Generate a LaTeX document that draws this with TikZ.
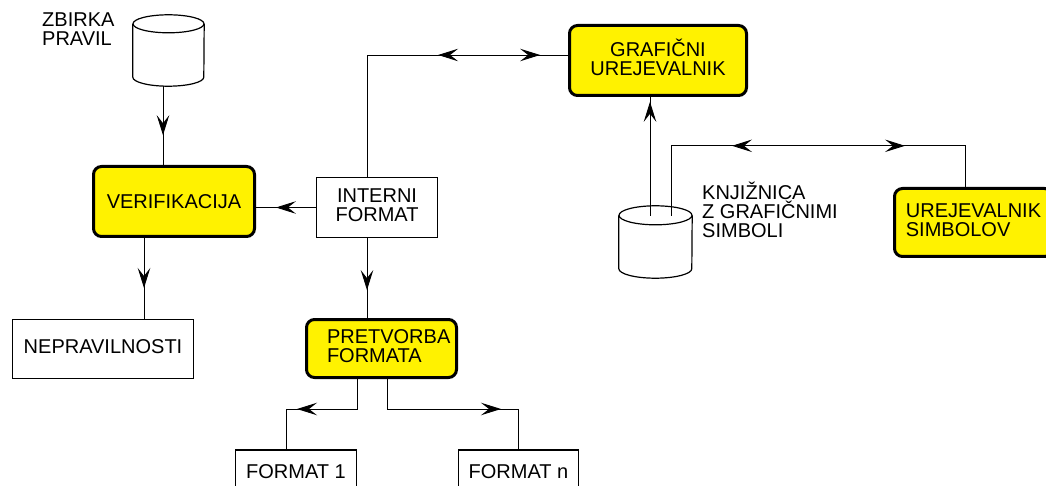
\documentclass[tikz,border=0pt]{standalone}
\usepackage{fontspec}
\setmainfont{Liberation Sans}
\usetikzlibrary{arrows.meta,decorations.markings,calc}

% outline of a drum (database) around an empty node: #1 node, #2 x radius, #3 y radius
\newcommand\drawdrum[3]{%
  \draw[store] ([yshift=-#3]#1.north west) -- ([yshift=#3]#1.south west)
     arc[start angle=180,end angle=360,x radius=#2,y radius=#3]
     -- ([yshift=-#3]#1.north east);
  \draw[store] ([yshift=-#3]#1.north) ellipse[x radius=#2,y radius=#3];}

\begin{document}
\begin{tikzpicture}[x=1pt,y=-1pt,
  every node/.style={font=\fontsize{20}{19}\selectfont, inner sep=0pt},
  proc/.style={draw, line width=3pt, rounded corners=8pt, fill=yellow},
  store/.style={draw, line width=1.2pt},
  conn/.style={line width=0.9pt},
  barb/.tip={Stealth[length=20pt,width=12.5pt,inset=8pt]},
  fwd/.style={postaction={decorate},
    decoration={markings, mark=at position #1 with {\arrow{barb}}}},
  both/.style 2 args={postaction={decorate},
    decoration={markings,
      mark=at position #1 with {\arrowreversed{barb}},
      mark=at position #2 with {\arrow{barb}}}}]

\useasboundingbox (0,0) rectangle (1046,486);
\clip (0,0) rectangle (1046,486);

% processes
\node[proc, minimum width=161pt, minimum height=70pt] (verif) at (174,201.5) {VERIFIKACIJA};
\node[proc, minimum width=177pt, minimum height=70pt, align=center] (grafic) at (658,60.5) {GRAFIČNI\\UREJEVALNIK\strut};
\node[proc, minimum width=150pt, minimum height=58pt, text width=109pt, align=left] (pretv) at (381.5,348.5) {PRETVORBA\\FORMATA\strut};
\node[proc, minimum width=158pt, minimum height=68pt, align=left] (urejsim) at (973.5,222.5) {UREJEVALNIK\\SIMBOLOV\strut};

% data
\node[store, minimum width=121pt, minimum height=60pt, align=center] (interni) at (377,207.5) {INTERNI\\FORMAT\strut};
\node[store, minimum width=181pt, minimum height=59pt] (neprav) at (103,349) {NEPRAVILNOSTI\strut};
\node[store, minimum width=121pt, minimum height=44pt] (fmt1) at (296,472) {FORMAT 1};
\node[store, minimum width=120pt, minimum height=44pt] (fmtn) at (518.5,472) {FORMAT n};

% stores
\node[minimum width=71pt, minimum height=71pt] (rules) at (168.5,50.5) {};
\drawdrum{rules}{35.5pt}{9pt}
\node[anchor=base west, align=left] (rulestxt) at (42,46) {ZBIRKA\\PRAVIL};

\node[minimum width=73pt, minimum height=72pt] (lib) at (655.5,242) {};
\drawdrum{lib}{36.5pt}{9.5pt}
\node[anchor=base west, align=left] (libtxt) at (702,238) {KNJIŽNICA\\Z GRAFIČNIMI\\SIMBOLI};

% loose ends of the flows leaving the library drum
\coordinate (libup) at ([xshift=-5.5pt,yshift=-10pt]lib.north);
\coordinate (libside) at ([xshift=15.5pt,yshift=-10pt]lib.north);

% flows
\draw[conn, fwd=49pt] ([xshift=-5.5pt]rules.south) -- ([xshift=-5.5pt]rules.south |- verif.north);
\draw[conn, fwd=40pt] (interni.west) -- (interni.west -| verif.east);
\draw[conn, fwd=50pt] ([xshift=-30pt]verif.south) -- ([xshift=-30pt]verif.south |- neprav.north);
\draw[conn, fwd=52pt] ([xshift=-10pt]interni.south) -- ([xshift=-10pt]interni.south |- pretv.north);
\draw[conn, both={193pt}{295pt}] ([xshift=-10pt]interni.north) |- ([yshift=5.5pt]grafic.west);
\draw[conn, fwd=114pt] (libup) -- (libup |- grafic.south);
\draw[conn, both={131pt}{304pt}] (libside) -- ++(0,-70) -| ([xshift=-8.5pt]urejsim.north);
\draw[conn, fwd=90pt] ([xshift=-24.5pt]pretv.south) -- ++(0,30) -| ([xshift=-10pt]fmt1.north);
\draw[conn, fwd=144pt] ([xshift=5.5pt]pretv.south) -- ++(0,30) -| (fmtn.north);
\end{tikzpicture}
\end{document}
